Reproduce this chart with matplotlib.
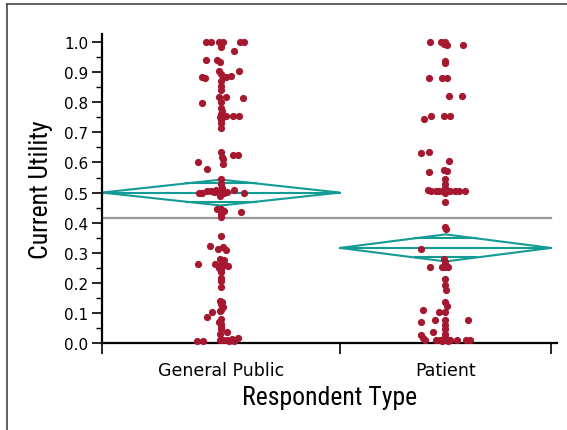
import numpy as np
import matplotlib
matplotlib.use("Agg")
import matplotlib.pyplot as plt
from matplotlib.lines import Line2D
from matplotlib.patches import Polygon
from matplotlib import font_manager

# categories and their share of the x axis (JMP width ~ sample size)
categories = ["General Public", "Patient"]
cat_share = [0.53, 0.47]

# current utility values, with the horizontal jitter (px)
gp_util = [1.0, 1.0, 1.0, 1.0, 1.0, 1.0, 0.985, 0.97,
           0.94, 0.94, 0.935, 0.905, 0.905, 0.895,
           0.885, 0.88, 0.885, 0.888, 0.885, 0.87, 0.853, 0.84,
           0.816, 0.816, 0.814, 0.80, 0.797,
           0.78, 0.77, 0.76, 0.755, 0.755, 0.755, 0.755, 0.75, 0.74, 0.73, 0.713,
           0.635, 0.625, 0.625, 0.618, 0.61, 0.603, 0.595, 0.578,
           0.545, 0.528, 0.515, 0.51, 0.51, 0.505, 0.505, 0.503, 0.502, 0.50,
           0.50, 0.502, 0.50, 0.50, 0.50, 0.495, 0.49,
           0.445, 0.445, 0.44, 0.437, 0.43, 0.42,
           0.354, 0.321, 0.318, 0.312, 0.31,
           0.28, 0.275, 0.262, 0.262, 0.26, 0.258, 0.255, 0.25, 0.245, 0.236,
           0.215, 0.207, 0.186,
           0.14, 0.135, 0.13, 0.12, 0.11, 0.105, 0.102, 0.085, 0.08, 0.07,
           0.063, 0.052, 0.046, 0.036, 0.03,
           0.008, 0.008, 0.01, 0.01, 0.01, 0.012, 0.015, 0.008, 0.008]
gp_jitter = [-15, -10, -2, 2, 19, 23, 0, 13,
             -15, -4, -1, -2, 18, 0,
             -19, -16, 2, 10, 5, 0, 0, 0,
             -2, 5, 22, 0, -19,
             0, 1, 0, 2, 5, 12, 18, -1, 0, 0, 0,
             0, 12, 17, 1, 2, -23, 2, -14,
             0, 0, 1, -5, 13, -14, -10, -7, -3, 0,
             3, 6, -22, -19, 23, 0, -1,
             -4, 0, 3, 20, 0, 0,
             0, -11, 2, -3, 5,
             -1, 3, -23, -6, 0, 4, 7, -2, 0, 0,
             0, 0, 0,
             -1, 1, 0, 2, 0, -1, -9, -14, 0, -2,
             0, 0, 0, 6, -1,
             -24, -18, -1, 2, 6, 11, 17, 8, 13]

pat_util = [1.0, 1.0, 0.995, 0.99, 1.0, 0.99,
            0.938, 0.93, 0.88, 0.88, 0.88, 0.822, 0.822,
            0.746, 0.755, 0.755, 0.755,
            0.63, 0.636, 0.604, 0.57, 0.576, 0.572,
            0.545, 0.528, 0.515, 0.51, 0.504, 0.504, 0.504, 0.504, 0.504,
            0.504, 0.504, 0.504, 0.504, 0.497, 0.47,
            0.386, 0.379, 0.312, 0.28, 0.27,
            0.254, 0.254, 0.254, 0.254, 0.213, 0.193, 0.176,
            0.136, 0.123, 0.11, 0.102, 0.102,
            0.076, 0.076, 0.076, 0.069, 0.06, 0.046, 0.036, 0.03, 0.027, 0.02,
            0.015, 0.011, 0.011, 0.011, 0.011, 0.011, 0.011, 0.011, 0.011,
            0.011, 0.005, 0.005]
pat_jitter = [-15, -4, -1, 2, 0, 18,
              0, 0, -16, -3, 2, 4, 17,
              -21, -14, -1, 5,
              -24, -16, 4, -16, -1, 2,
              0, 0, 0, -17, -14, -9, -6, -2, 2,
              5, 10, 14, 20, 0, 0,
              0, 1, -24, -1, 0,
              -15, -3, 0, 3, 0, 0, 1,
              0, 2, -22, -6, 0,
              -10, 0, 23, -24, 0, 0, -12, 0, -24, 0,
              -22, -20, -9, -5, -2, 2, 5, 12, 21,
              25, -3, 3]

# means diamonds: group mean and 95% CI half width, plus grand mean
group_mean = [0.500, 0.316]
ci_half = [0.043, 0.045]
grand_mean = 0.414

red = "#A5182F"
teal = "#139B94"

# condensed face for the axis titles if one is installed
names = set(f.name for f in font_manager.fontManager.ttflist)
cond = None
for n in ["Liberation Sans Narrow", "DejaVu Sans Condensed", "Roboto Condensed"]:
    if n in names:
        cond = n
        break
if cond:
    title_font = dict(family=cond, fontsize=18.5)
else:
    title_font = dict(family="DejaVu Sans", fontsize=16, fontstretch="condensed")

fig = plt.figure(figsize=(5.67, 4.31), dpi=100)
ax = fig.add_axes([102 / 567, 87 / 431, 455 / 567, 309 / 431])

edges = np.concatenate([[0], np.cumsum(cat_share)])
centers = (edges[:-1] + edges[1:]) / 2
px = 1 / 449.0

ax.axhline(grand_mean, xmin=0, xmax=1 / 1.0134, color="#9A9A9A", lw=1.6, zorder=1)

for i in range(2):
    x0, x1, xc = edges[i], edges[i + 1], centers[i]
    m, h = group_mean[i], ci_half[i]
    ax.add_patch(Polygon([(x0, m), (xc, m + h), (x1, m), (xc, m - h)],
                         closed=True, fill=False, edgecolor=teal, lw=1.5, zorder=2))
    ax.plot([x0, x1], [m, m], color=teal, lw=1.5, zorder=2)
    d = h / np.sqrt(2)
    f = 1 - d / h
    for s in (1, -1):
        ax.plot([xc - f * (xc - x0), xc + f * (x1 - xc)], [m + s * d, m + s * d],
                color=teal, lw=1.5, zorder=2)

ax.scatter(centers[0] + np.array(gp_jitter) * px, gp_util, s=27, color=red,
           linewidths=0, zorder=3, clip_on=False)
ax.scatter(centers[1] + np.array(pat_jitter) * px, pat_util, s=27, color=red,
           linewidths=0, zorder=3, clip_on=False)

ax.set_xlim(0, 1.0134)
ax.set_ylim(0, 1.027)
ax.spines["top"].set_visible(False)
ax.spines["right"].set_visible(False)
ax.spines["left"].set_linewidth(1.6)
ax.spines["bottom"].set_linewidth(1.6)

ax.set_yticks(np.arange(0, 1.01, 0.1))
ax.set_yticklabels(["%.1f" % v for v in np.arange(0, 1.01, 0.1)],
                   fontsize=11, family="DejaVu Sans")
ax.set_yticks(np.arange(0.05, 1.0, 0.1), minor=True)
ax.tick_params(axis="y", which="major", length=7, width=1.2, pad=3)
ax.tick_params(axis="y", which="minor", length=4, width=1.0)

ax.set_xticks(edges)
ax.set_xticklabels([])
ax.tick_params(axis="x", which="major", length=8, width=1.2)
ax.set_xticks(centers, minor=True)
ax.set_xticklabels(categories, minor=True, fontsize=12.5, family="DejaVu Sans")
ax.tick_params(axis="x", which="minor", length=0, pad=13)

ax.set_xlabel("Respondent Type", labelpad=4, **title_font)
ax.set_ylabel("Current Utility", labelpad=8, **title_font)

fig.add_artist(Line2D([7 / 567, 7 / 567], [0, 1 - 5 / 431], color="#444444", lw=1.2))
fig.add_artist(Line2D([7 / 567, 1], [1 - 5 / 431, 1 - 5 / 431], color="#444444", lw=1.2))

fig.savefig("out.png", dpi=100)
